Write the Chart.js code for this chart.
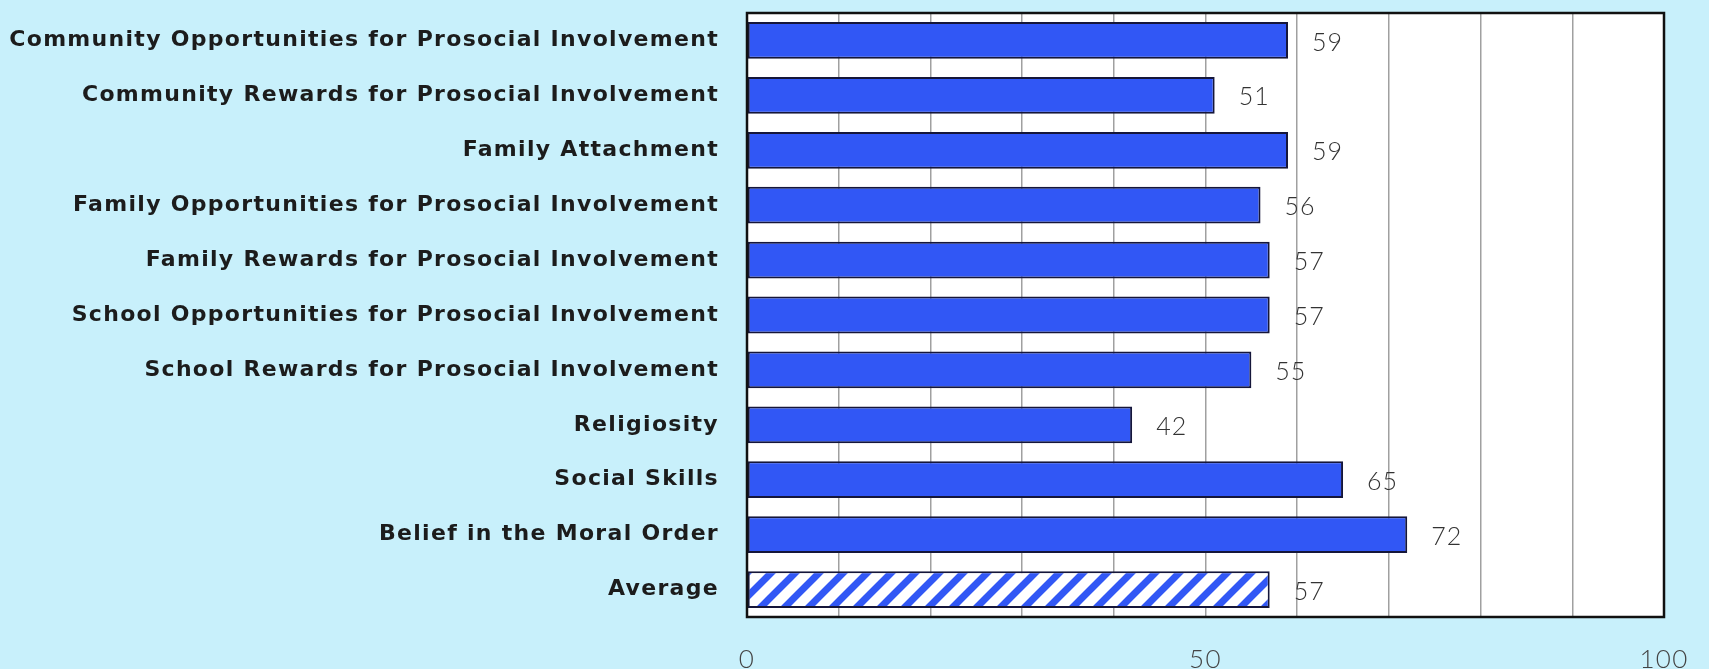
<!DOCTYPE html>
<html>
<head>
<meta charset="utf-8">
<script src="https://cdn.jsdelivr.net/npm/chart.js@4.4.1/dist/chart.umd.min.js"></script>
<style>
html, body { margin: 0; padding: 0; background: #c8f0fb; }
#wrap { width: 1709px; height: 669px; }
</style>
</head>
<body>
<div id="wrap"><canvas id="myChart" width="1709" height="669"></canvas></div>
<script>
// chart data
var labels = [
    "Community Opportunities for Prosocial Involvement",
    "Community Rewards for Prosocial Involvement",
    "Family Attachment",
    "Family Opportunities for Prosocial Involvement",
    "Family Rewards for Prosocial Involvement",
    "School Opportunities for Prosocial Involvement",
    "School Rewards for Prosocial Involvement",
    "Religiosity",
    "Social Skills",
    "Belief in the Moral Order",
    "Average"
];
var scores = [59, 51, 59, 56, 57, 57, 55, 42, 65, 72, 57];
var xTickLabels = [0, 50, 100];

var barBlue = "#3157f5";

// diagonal hatch for the Average bar
function makeHatch() {
    var s = 24;
    var c = document.createElement("canvas");
    c.width = s; c.height = s;
    var p = c.getContext("2d");
    p.fillStyle = "#ffffff";
    p.fillRect(0, 0, s, s);
    p.strokeStyle = barBlue;
    p.lineWidth = 7;
    p.beginPath();
    p.moveTo(-6, s + 6); p.lineTo(s + 6, -6);
    p.moveTo(-6, 6); p.lineTo(6, -6);
    p.moveTo(s - 6, s + 6); p.lineTo(s + 6, s - 6);
    p.stroke();
    return p.createPattern(c, "repeat");
}

var fills = scores.map(function (v, i) {
    return labels[i] === "Average" ? makeHatch() : barBlue;
});

//white plot area + black frame, spaced out lettering
var plotFrame = {
    id: "plotFrame",
    beforeDraw: function (chart) {
        var a = chart.chartArea, ctx = chart.ctx;
        ctx.letterSpacing = "1.3px";
        ctx.save();
        ctx.fillStyle = "#ffffff";
        ctx.fillRect(a.left, a.top, a.right - a.left, a.bottom - a.top);
        ctx.restore();
    },
    afterDraw: function (chart) {
        var a = chart.chartArea, ctx = chart.ctx;
        ctx.save();
        ctx.strokeStyle = "#111111";
        ctx.lineWidth = 2.5;
        ctx.strokeRect(a.left, a.top, a.right - a.left, a.bottom - a.top);
        ctx.restore();
    }
};

// numbers right of each bar
var valueLabels = {
    id: "valueLabels",
    afterDatasetsDraw: function (chart) {
        var ctx = chart.ctx;
        var meta = chart.getDatasetMeta(0);
        ctx.save();
        ctx.letterSpacing = "1px";
        ctx.font = "300 25px Lato";
        ctx.fillStyle = "#333333";
        ctx.textBaseline = "middle";
        meta.data.forEach(function (bar, i) {
            ctx.fillText(String(scores[i]), bar.x + 24, bar.y + 2);
        });
        ctx.restore();
    }
};

var ctx = document.getElementById("myChart").getContext("2d");
var myChart = new Chart(ctx, {
    type: "bar",
    data: {
        labels: labels,
        datasets: [{
            data: scores,
            backgroundColor: fills,
            borderColor: "#15163a",
            borderWidth: 2,
            borderSkipped: false,
            categoryPercentage: 1,
            barPercentage: 0.67
        }]
    },
    options: {
        indexAxis: "y",
        responsive: false,
        animation: false,
        layout: { padding: { top: 13, right: 45, left: 0, bottom: 0 } },
        plugins: {
            legend: { display: false },
            tooltip: { enabled: false }
        },
        scales: {
            x: {
                min: 0,
                max: 100,
                grid: { color: "#a0a0a0", lineWidth: 1.5, tickLength: 0 },
                border: { display: false },
                ticks: {
                    stepSize: 10,
                    autoSkip: false,
                    maxRotation: 0,
                    padding: 27,
                    color: "#444444",
                    font: { family: "Lato", size: 26, weight: "300" },
                    callback: function (value) {
                        return xTickLabels.indexOf(value) >= 0 ? value : "";
                    }
                },
                afterFit: function (scale) {
                    scale.height = 52;
                    scale.paddingLeft = 0;
                    scale.paddingRight = 0;
                }
            },
            y: {
                grid: { display: false },
                border: { display: false },
                ticks: {
                    autoSkip: false,
                    padding: 20,
                    color: "#1c1c1c",
                    font: { family: "DejaVu Sans", size: 22, weight: "bold" }
                },
                afterFit: function (scale) {
                    scale.width = 747;
                    scale.paddingTop = 0;
                    scale.paddingBottom = 0;
                }
            }
        }
    },
    plugins: [plotFrame, valueLabels]
});
</script>
</body>
</html>
